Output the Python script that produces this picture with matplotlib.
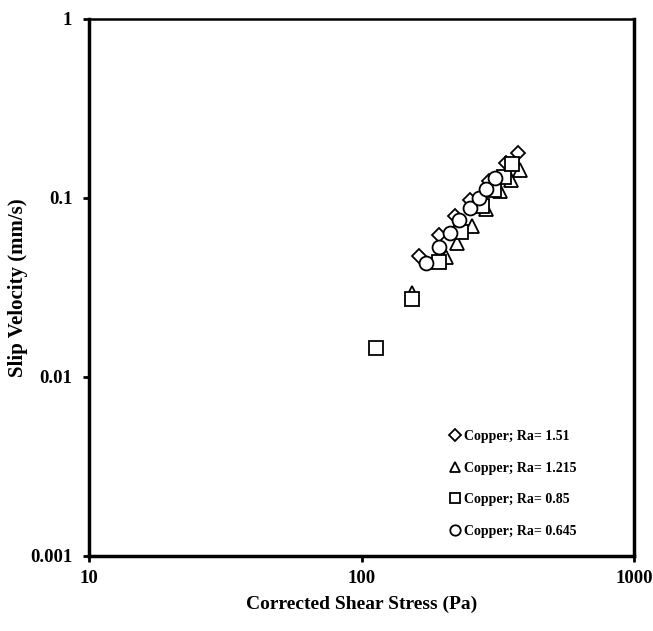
import matplotlib
matplotlib.use("Agg")
import matplotlib.pyplot as plt

# Copper; Ra= 1.51 (diamonds)
x_151 = [163, 192, 220, 250, 294, 339, 375]
y_151 = [0.0477, 0.0624, 0.0797, 0.098, 0.125, 0.157, 0.179]
# Copper; Ra= 1.215 (triangles)
x_1215 = [153, 204, 224, 254, 286, 322, 354, 382]
y_1215 = [0.0293, 0.0471, 0.0563, 0.0701, 0.0872, 0.110, 0.1265, 0.144]
# Copper; Ra= 0.85 (squares)
x_085 = [113, 153, 192, 232, 277, 306, 333, 357]
y_085 = [0.0146, 0.0274, 0.0441, 0.0649, 0.0906, 0.111, 0.1315, 0.155]
# Copper; Ra= 0.645 (circles)
x_0645 = [172, 192, 211, 228, 250, 270, 286, 309]
y_0645 = [0.0436, 0.0535, 0.064, 0.0756, 0.0883, 0.1004, 0.1127, 0.1298]

labels = ["Copper; Ra= 1.51", "Copper; Ra= 1.215", "Copper; Ra= 0.85", "Copper; Ra= 0.645"]

plt.rcParams["font.family"] = ["Liberation Serif", "DejaVu Serif"]
plt.rcParams["font.weight"] = "bold"

fig = plt.figure(figsize=(6.53, 6.31), dpi=100)
ax = fig.add_axes([0.1363, 0.1189, 0.8346, 0.8510])

style = dict(linestyle="none", markerfacecolor="white", markeredgecolor="black",
             markeredgewidth=1.3)
ax.plot(x_151, y_151, marker="D", markersize=7.5, label=labels[0], **style)
ax.plot(x_1215, y_1215, marker="^", markersize=10, label=labels[1], **style)
ax.plot(x_085, y_085, marker="s", markersize=10, label=labels[2], **style)
ax.plot(x_0645, y_0645, marker="o", markersize=10, label=labels[3], **style)

ax.set_xscale("log")
ax.set_yscale("log")
ax.set_xlim(10, 1000)
ax.set_ylim(0.001, 1)
ax.set_xticks([10, 100, 1000])
ax.set_xticklabels(["10", "100", "1000"])
ax.set_yticks([0.001, 0.01, 0.1, 1])
ax.set_yticklabels(["0.001", "0.01", "0.1", "1"])
ax.minorticks_off()
ax.tick_params(direction="out", length=4, width=2, labelsize=13.5)
ax.tick_params(axis="y", pad=8)
ax.tick_params(axis="x", pad=6)

for side in ["left", "bottom", "right"]:
    ax.spines[side].set_linewidth(2.5)
ax.spines["top"].set_linewidth(1.8)

ax.set_xlabel("Corrected Shear Stress (Pa)", fontsize=14, fontweight="bold", labelpad=6)
ax.set_ylabel("Slip Velocity (mm/s)", fontsize=15, fontweight="bold")
ax.yaxis.set_label_coords(-0.112, 0.5)

ax.legend(loc="lower right", frameon=False, markerscale=0.75, fontsize=10,
          handlelength=0.7, handletextpad=0.35, labelspacing=1.35,
          bbox_to_anchor=(0.918, 0.01))

fig.savefig("out.png", dpi=100)
